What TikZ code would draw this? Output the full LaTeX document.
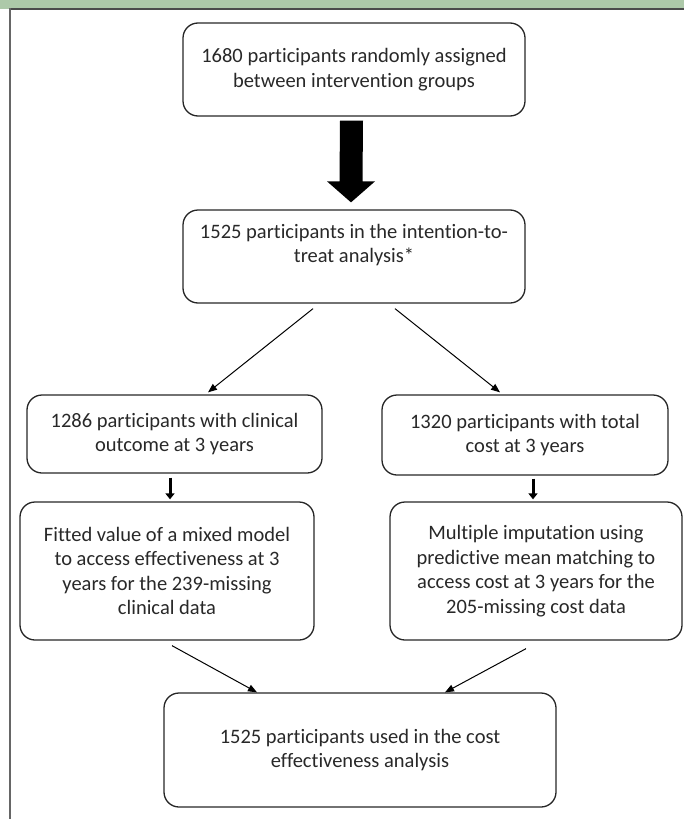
\documentclass[tikz,border=0pt]{standalone}
\usepackage{fontspec}
\setmainfont{Carlito}[RawFeature={-liga;-clig;-calt}]
\usepackage{tikz}
\usetikzlibrary{arrows.meta,positioning,calc}
\definecolor{hdrgreen}{RGB}{173,201,169}
\definecolor{framegray}{RGB}{75,75,75}
\definecolor{txtgray}{RGB}{40,40,40}

\begin{document}
\begin{tikzpicture}[x=1pt,y=-1pt,>=Triangle,
  flowbox/.style={draw=black!85,line width=1.3pt,rounded corners=15pt,align=center,
    font=\fontsize{20.5}{24.5}\selectfont,text=txtgray,inner sep=0pt},
  diagarrow/.style={line width=1pt,-{Triangle[length=9pt,width=7pt]}},
  shortarrow/.style={line width=3pt,-{Triangle[length=6pt,width=9pt]}}]
  \useasboundingbox (0,0) rectangle (684,819);
  % header strip and frame
  \fill[hdrgreen] (0,0) rectangle (684,8.5);
  \draw[framegray,line width=2pt] (9,9) -- (684,9);
  \draw[framegray!85,line width=2.5pt] (10,8) -- (10,819);

  % boxes
  \node[flowbox,minimum width=342pt,minimum height=93pt] (rand) at (354,69.5)
    {1680 participants randomly assigned\\between intervention groups};
  \node[flowbox,minimum width=342pt,minimum height=93pt] (itt) at (354,256.5)
    {1525 participants in the intention-to-\\treat analysis*\\[-6pt]\strut};
  \node[flowbox,minimum width=295pt,minimum height=78pt] (clin) at (174.5,434)
    {1286 participants with clinical\\outcome at 3 years};
  \node[flowbox,minimum width=286pt,minimum height=80pt] (cost) at (525,435)
    {1320 participants with total\\cost at 3 years};
  \node[flowbox,minimum width=294pt,minimum height=138pt] (fit) at (167,571)
    {Fitted value of a mixed model\\to access effectiveness at 3\\years for the 239-missing\\clinical data};
  \node[flowbox,minimum width=292pt,minimum height=138pt] (mi) at (536,571)
    {Multiple imputation using\\predictive mean matching to\\access cost at 3 years for the\\205-missing cost data};
  \node[flowbox,minimum width=392pt,minimum height=114pt] (cea) at (360,750)
    {1525 participants used in the cost\\effectiveness analysis};

  % big arrow
  \coordinate (bigtop) at ($(rand.south)+(-2.5,4)$);
  \coordinate (bigtip) at ($(itt.north)+(-3,-7)$);
  \fill ($(bigtop)+(-11.5,0)$) -- ($(bigtip)+(-11.5,-21)$) -- ($(bigtip)+(-24,-21)$)
    -- (bigtip) -- ($(bigtip)+(24,-21)$) -- ($(bigtip)+(11.5,-21)$)
    -- ($(bigtop)+(11.5,0)$) -- cycle;

  % split
  \draw[diagarrow] ($(itt.south)+(-41,5)$) -- ($(clin.north)+(33.5,-2)$);
  \draw[diagarrow] ($(itt.south)+(41,5)$) -- ($(cost.north)+(-25,-2)$);
  \draw[shortarrow] ($(clin.south)+(-4.5,4)$) -- ($(fit.north)+(3,-2)$);
  \draw[shortarrow] ($(cost.south)+(8,3)$) -- ($(mi.north)+(-3,-2)$);

  % merge
  \draw[diagarrow] ($(fit.south)+(5,5)$) -- ($(cea.north)+(-103,0)$);
  \draw[diagarrow] ($(mi.south)+(-10,8)$) -- ($(cea.north)+(85,0)$);
\end{tikzpicture}
\end{document}
